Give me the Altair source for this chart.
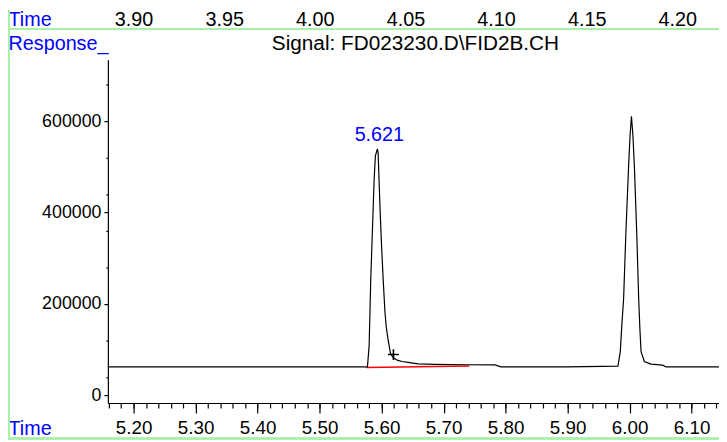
import altair as alt
import pandas as pd

# ---------------- data ----------------
time_min = [5.1585, 5.30, 5.45, 5.55, 5.5772, 5.5799, 5.5825, 5.5852, 5.5879, 5.5900,
            5.5932, 5.5944, 5.5959, 5.5979, 5.6000, 5.6027, 5.6054, 5.6075, 5.6102, 5.6144,
            5.6187, 5.6251, 5.6330, 5.6426, 5.6585, 5.6857, 5.7383, 5.7829, 5.7925, 5.90,
            5.9812, 5.9850, 5.9876, 5.9903, 5.9940, 5.9983, 6.0007, 6.0030, 6.0054, 6.0078,
            6.0115, 6.0147, 6.0166, 6.0185, 6.0238, 6.0345, 6.0493, 6.0541, 6.0589, 6.1442]
response = [61700, 61800, 61700, 61700, 61800, 108300, 253400, 361700, 470000, 524200,
            539300, 530700, 470000, 394200, 324900, 249100, 181900, 149500, 123500, 91000,
            82300, 76500, 73600, 71500, 68200, 67100, 66500, 66100, 61700, 61700,
            63500, 95300, 156000, 210100, 355200, 498200, 567500, 610800, 567500, 498200,
            355200, 210100, 145100, 95300, 73600, 67800, 66100, 65000, 61700, 61700]

baseline_t = [5.5756, 5.7415]
baseline_r = [60650, 63900]

marker_t = [5.6191]
marker_r = [88800]

peak_t = [5.5932]
peak_r = [539300]
peak_label = ["5.621"]

title_text = ["Signal: FD023230.D\\FID2B.CH"]

x_major = [5.2, 5.3, 5.4, 5.5, 5.6, 5.7, 5.8, 5.9, 6.0, 6.1]
x_minor = [round(5.16 + 0.02 * k, 2) for k in range(50)]
y_major = [0, 200000, 400000, 600000]
y_minor = [40000, 120000, 280000, 360000, 440000, 520000, 680000]
top_ticks = [3.90, 3.95, 4.00, 4.05, 4.10, 4.15, 4.20]

X_DOM = [5.1585, 6.1442]
TOP_DOM = [3.8858, 4.2230]
Y_DOM = [-17330, 734270]

FONT = "Liberation Sans"
BLUE = "#0000ff"
GREEN = "#a8f0a8"
W, H = 618, 347

sig = pd.DataFrame({"t": time_min, "r": response})
base = pd.DataFrame({"t": baseline_t, "r": baseline_r})
mark = pd.DataFrame({"t": marker_t, "r": marker_r})
peak = pd.DataFrame({"t": peak_t, "r": peak_r, "lab": peak_label})
top = pd.DataFrame({"v": top_ticks})
ttl = pd.DataFrame({"txt": title_text})


def xs():
    return alt.Scale(domain=X_DOM, nice=False, zero=False)


def ys():
    return alt.Scale(domain=Y_DOM, nice=False, zero=False)


title_style = dict(titleFont=FONT, titleFontSize=20, titleColor=BLUE, titleFontWeight="normal",
                   titleAngle=0, titleAlign="left", titleAnchor="start",
                   titleBaseline="alphabetic")

x_axis = alt.Axis(orient="bottom", values=x_major, format=".2f", tickSize=10, tickWidth=1.2,
                  tickColor="black", domainColor="black", domainWidth=1.2, grid=False,
                  labelFont=FONT, labelFontSize=19, labelColor="black",
                  labelPadding=21, labelBaseline="alphabetic", labelFlush=False,
                  labelOverlap=False, title="Time", titleX=-101, titleY=32, **title_style)

y_axis = alt.Axis(orient="left", values=y_major, format="d", tickSize=4, tickWidth=1.2,
                  tickColor="black", domainColor="black", domainWidth=1.2, grid=False,
                  labelFont=FONT, labelFontSize=18, labelColor="black",
                  labelPadding=3, labelFlush=False, labelOverlap=False,
                  title="Response_", titleX=-101, titleY=-10, **title_style)

line = alt.Chart(sig).mark_line(color="black", strokeWidth=1.2).encode(
    x=alt.X("t:Q", scale=xs(), axis=x_axis),
    y=alt.Y("r:Q", scale=ys(), axis=y_axis),
)

minor = alt.Chart(sig).mark_line(opacity=0).encode(
    x=alt.X("t:Q", scale=xs(), axis=alt.Axis(orient="bottom", values=x_minor, tickSize=5,
                                             tickWidth=1.2, tickColor="black", domain=False,
                                             labels=False, grid=False, title=None)),
    y=alt.Y("r:Q", scale=ys(), axis=alt.Axis(orient="left", values=y_minor, tickSize=2,
                                             tickWidth=1.2, tickColor="black", domain=False,
                                             labels=False, grid=False, title=None)),
)

top_axis = alt.Chart(top).mark_point(opacity=0).encode(
    x=alt.X("v:Q", scale=alt.Scale(domain=TOP_DOM, nice=False, zero=False),
            axis=alt.Axis(orient="top", values=top_ticks, format=".2f", domain=False, ticks=False,
                          tickSize=0, grid=False, labelPadding=35, labelBaseline="alphabetic",
                          labelFont=FONT, labelFontSize=20, labelColor="black",
                          labelFlush=False, labelOverlap=False,
                          title="Time", titleX=-101, titleY=-34.7, **title_style)),
    y=alt.value(0),
)

red = alt.Chart(base).mark_line(color="#ff0000", strokeWidth=1.5).encode(
    x=alt.X("t:Q", scale=xs(), axis=None),
    y=alt.Y("r:Q", scale=ys(), axis=None),
)

cross = alt.Chart(mark).mark_point(shape="M-1,0L1,0M0,-1L0,1", filled=False, color="black",
                                   strokeWidth=1.6, size=120, opacity=1).encode(
    x=alt.X("t:Q", scale=xs(), axis=None),
    y=alt.Y("r:Q", scale=ys(), axis=None),
)

label = alt.Chart(peak).mark_text(font=FONT, fontSize=20, color=BLUE, align="center",
                                  baseline="alphabetic", dx=2, dy=-8).encode(
    x=alt.X("t:Q", scale=xs(), axis=None),
    y=alt.Y("r:Q", scale=ys(), axis=None),
    text="lab:N",
)

signal_title = alt.Chart(ttl).mark_text(font=FONT, fontSize=21, color="black", align="center",
                                        baseline="alphabetic").encode(
    x=alt.value(W / 2 + 2), y=alt.value(-10), text="txt:N")

frame_mid = alt.Chart(top).mark_rule(color=GREEN, strokeWidth=1.5).encode(
    x=alt.value(-101), x2=alt.value(W), y=alt.value(-31))
frame_bot = alt.Chart(top).mark_rule(color=GREEN, strokeWidth=1.5).encode(
    x=alt.value(-101), x2=alt.value(W), y=alt.value(383))
frame_left = alt.Chart(top).mark_rule(color=GREEN, strokeWidth=1.5).encode(
    x=alt.value(-100.3), y=alt.value(-50), y2=alt.value(384))

chart = alt.layer(
    frame_mid, frame_bot, frame_left, top_axis, minor, red, line, cross, label, signal_title
).resolve_scale(x="independent", y="independent").properties(
    width=W, height=H,
    padding={"left": 101, "top": 50, "right": 0, "bottom": 37},
    autosize=alt.AutoSizeParams(type="none"),
    background="white",
).configure_view(stroke=None)

chart.save("out.html", embed_options={"renderer": "svg", "actions": False})
